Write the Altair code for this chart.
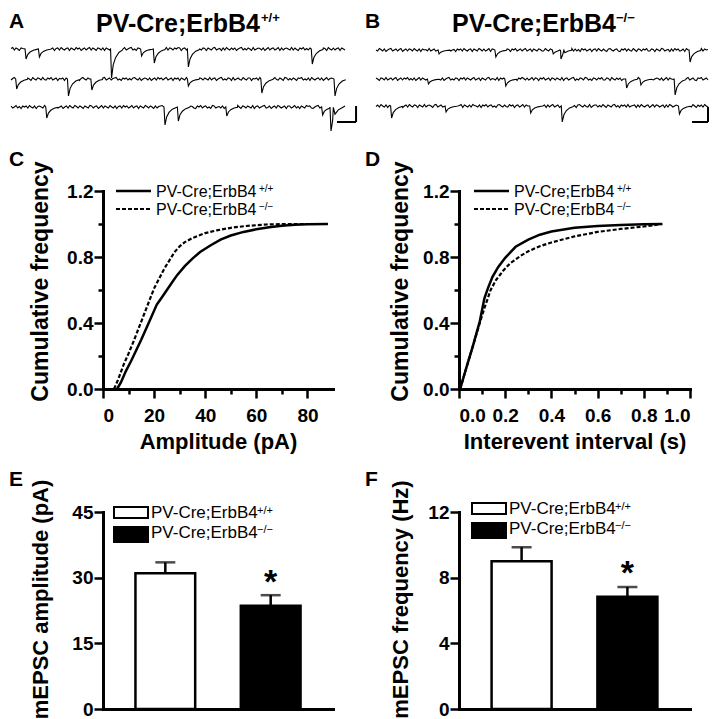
import altair as alt
import pandas as pd

FONT = "Liberation Sans"

# ---------------- data ----------------
genotypes = ["PV-Cre;ErbB4+/+", "PV-Cre;ErbB4-/-"]
sup_wt = "+/+"
sup_ko = "\u2212/\u2212"

# E / F bar data
amp_mean = [31.0, 23.6]
amp_sem = [2.5, 2.4]
freq_mean = [9.0, 6.83]
freq_sem = [0.85, 0.6]
amp_star = [28.7]
freq_star = [8.25]

# C: cumulative amplitude distributions
amp_wt_x = [5.5, 7, 9, 11, 13, 15, 17, 19, 21, 23, 25, 27, 29, 32, 35, 38, 42, 46, 50, 55, 60, 65, 70, 75, 80, 88]
amp_wt_y = [0, 0.04, 0.11, 0.17, 0.235, 0.30, 0.37, 0.44, 0.51, 0.555, 0.60, 0.645, 0.69, 0.745, 0.79, 0.83,
            0.87, 0.905, 0.93, 0.952, 0.968, 0.98, 0.99, 0.996, 0.999, 1.0]
amp_ko_x = [4.3, 6, 8, 10, 12, 14, 16, 18, 20, 22, 24, 26, 28, 30, 32, 35, 40, 45, 50, 56, 64, 72, 88]
amp_ko_y = [0, 0.06, 0.145, 0.215, 0.29, 0.37, 0.45, 0.53, 0.61, 0.67, 0.73, 0.78, 0.83, 0.865, 0.89, 0.915,
            0.945, 0.963, 0.977, 0.988, 0.997, 1.0, 1.0]

# D: cumulative inter-event interval distributions
iei_wt_x = [0.005, 0.03, 0.06, 0.09, 0.11, 0.125, 0.145, 0.17, 0.2, 0.245, 0.3, 0.35, 0.4, 0.5, 0.6, 0.7, 0.8, 0.88]
iei_wt_y = [0, 0.12, 0.26, 0.41, 0.55, 0.61, 0.68, 0.74, 0.795, 0.862, 0.905, 0.935, 0.955, 0.977, 0.988, 0.994,
            0.998, 1.0]
iei_ko_x = [0.005, 0.03, 0.06, 0.09, 0.11, 0.137, 0.16, 0.19, 0.22, 0.27, 0.3, 0.35, 0.4, 0.5, 0.6, 0.7, 0.8, 0.88]
iei_ko_y = [0, 0.12, 0.26, 0.40, 0.49, 0.60, 0.66, 0.715, 0.76, 0.81, 0.835, 0.865, 0.888, 0.925, 0.952, 0.97,
            0.985, 1.0]

# A / B: example traces (baseline noise samples, events as (time, depth))
noise_A = [
    "0.5 1.5 -1 1 0 -1.5 1 0.5 -1 1.5 -1 0 1 -1.5 0 1 0.5 -1 1.5 0 -1 1 1.5 -1 0 1 -1.5 0.5 1 -1 1.5 0 -1 0.5 1 -1.5 1 0 -1 1.5 0 1 -1.5 0 1 -1 0.5 1.5 -1 1 0 -1.5 1 0.5 -1 1 -1.5 1 0 -1 1.5 0 -1 1 0.5 -1.5 1 0 1.5 -1 0 1 1.5 -1 0 -1.5 1 0.5 -1 1 0 -1.5 1.5 0 1 -1 0.5 1 -1.5 0 1 -1 0 1.5 -1 1 0.5 -1 1 0 1.5 "
    "1 -1.5 0.5 1 -1 0 1.5 -1 1 -0.5 -1 1.5 0 -1 1 0.5 -1.5 1 0 -1 1 1.5 -1 0 0.5 -1.5 1 -1 1.5 0 -1 1 -0.5 1 -1.5 0 1 1.5 -1 0.5 -1 1 0 -1.5 1.5 -1 0 1 0.5 -1 1 -1.5 0 1.5 -1 0.5 1 -1 0 1.5 -1.5 1 -1 0.5 1 0 -1 1.5 -1 1 -0.5 -1.5 1 0 1.5 -1 0.5 -1 1 0 -1.5 1 1.5 -1 0 -1 1 0.5 -1.5 1.5 0 -1 1 -1 0.5 1 -1.5 1 0 -1",
    "-1 0.5 1.5 -1 0 1 -1.5 1 0.5 -1 1 0 -1.5 1.5 0 -1 1 0.5 -1 1.5 -0.5 -1 1 0 1.5 -1 0 1 -1.5 0.5 0 1 -1.5 1 0 -1 1.5 1 -1 0 1 -1.5 0.5 1.5 0 -1 1 0 -1.5 1 -1 0.5 1 0 -1.5 1 1.5 -1 0 1 -1 0.5 1 1.5 -1 0 -1.5 1 0 1 -1 0.5 -1 1 1.5 0 -1 1 -1.5 0 1 0.5 -1 1 -1.5 0 1 -1 1.5 0 1 -1 0.5 1.5 -1 0 1 -1.5 1 0 1 "
    "-1.5 1 0 -1 1.5 0.5 -1 1 -1 0 1.5 -1.5 1 0.5 -1 1 0 -1 1.5 -1 0.5 1 -1.5 0 1 1.5 -1 0 -1 1 0.5 -1.5 1.5 -1 0 1 -0.5 -1 1.5 0 -1 1 1 -1.5 0.5 0 1 -1 1.5 -1 0 0.5 1 -1.5 1 -1 0 1.5 -0.5 -1 1 0 -1.5 1.5 1 -1 0.5 -1 1 0 -1.5 1 0.5 1.5 -1 0 -1 1 -1.5 1.5 0 -1 0.5 1 -1 1 -1.5 0 1.5 -1 0.5 1 -1 0 1 -1.5 1.5 -0.5 -1 1",
    "1 -1 0 1.5 -1 0.5 -1.5 1 0 1 -1 1.5 0 -1 1 -1.5 0.5 1 0 -1 1.5 -1.5 1 0 -1 1 0.5 1.5 -1 0 1 -1.5 0 1 -1 1.5 0 -1 1.5 0.5 -1 1 0 -1.5 1 0 -1 1.5 1 -1 0.5 1 -1.5 0 1.5 -1 1 0 -1 1.5 0 -1 1 -1.5 0.5 1 -1 1.5 0 1 -1 0 1.5 -1 0.5 1 -1.5 1 0 -1 1.5 0.5 -1 1 0 -1.5 1 -1 0.5 1 1.5 -1 0 1 -1.5 0 1.5 -1 1 0 "
    "0.5 -1 1 -1.5 1.5 0 -1 1 0.5 -1 -1.5 1 0 1.5 -1 0.5 1 -1 0 -1.5 1.5 1 -1 0 0.5 -1 1 -1.5 1 0 1.5 -1 -0.5 1 -1 1.5 0 -1.5 1 0.5 -1 1 0 -1 1.5 -1.5 0.5 1 -1 0 1 1.5 -1 -0.5 1 -1.5 0 1 -1 1.5 0.5 -1 0 1 -1.5 1 1 -1 0 1.5 -1 0.5 -1.5 1 0 -1 1.5 0.5 1 -1 -1.5 0 1 1.5 -1 0 -1 1 0.5 -1.5 1.5 0 -1 1 -1 0.5 1.5 -1 0 1",
]
noise_B = [
    "0 -1 1.5 0.5 -1 1 -1.5 0 1 1.5 -1 0 1 -1 0.5 1.5 -1.5 0 1 -1 1 0.5 -1 1.5 0 -1 1 -1.5 1 0 0.5 -1 1.5 -1 0 1 -1 1.5 0.5 -1.5 1 0 -1 1 1.5 -1 0 0.5 -1.5 1 0 1 -1 1.5 0 -1 0.5 1 -1.5 1 0 -1 1.5 0.5 -1 1 -1 0 1.5 -1.5 1 0.5 -1 0 1 1.5 -1 0 -1 1 0.5 -1.5 1 0 1.5 -1 0 1 -1 0.5 1.5 -1 0 1 -1.5 1 0 -1 1 0.5 -1 "
    "-1 1.5 0 -1 1 -1.5 0.5 1 1.5 -1 0 -1 1 0.5 -1.5 1 0 1.5 -1 1 -1 0.5 -1.5 1.5 0 1 -1 0 1 -1.5 0.5 1 -1 1.5 0 -1 1 -0.5 -1.5 1 1.5 0 -1 0.5 1 -1 -1.5 1 0 1.5 -1 1 -0.5 -1 1.5 0 -1.5 1 0.5 -1 1 0 1.5 -1 -1 1 0.5 -1.5 1 0 -1 1.5 1 -1 0 0.5 -1.5 1 -1 1.5 0 1 -1 -0.5 1 -1.5 1.5 0 -1 1 0.5 -1 1 -1.5 0 1.5 -1 1 0 0.5",
    "1 0 -1.5 1 0.5 -1 1.5 -1 0 1 -1 0.5 1.5 -1.5 0 1 -1 1 0 1.5 -1 0.5 -1 1 -1.5 0 1.5 -1 1 0 -1 0.5 1 -1.5 1.5 0 -1 1 0.5 -1 1 -1.5 0 1 1.5 -1 0 -1 1 0.5 -1.5 1 0 1.5 -1 1 0 -1 0.5 1.5 -1 0 1 -1.5 1 0 -1 1 1.5 -1 0.5 0 -1 1.5 -1.5 1 0 1 -1 0.5 1.5 -1 0 1 -1 -1.5 1 0 1.5 0.5 -1 1 -1 0 1.5 -1 1 0.5 -1.5 1 0 "
    "1.5 -1 0 1 -1.5 1 0.5 -1 1 0 -1 1.5 -1.5 0.5 1 -1 0 1 1.5 -1.5 0 -1 1 0.5 -1 1.5 1 -1 0 -1.5 1 0.5 -1 1 0 1.5 -1 -1 1 0.5 -1.5 1.5 0 -1 1 -0.5 1 -1.5 0 1 1.5 -1 0.5 -1 1 -1.5 0 1.5 -1 1 0 -1 0.5 1 -1.5 1.5 -1 0 1 0.5 -1 1 -1.5 0 1.5 -1 1 0 -0.5 -1 1.5 1 -1.5 0 1 -1 0.5 1.5 -1 0 1 -1 -1.5 1 0.5 1.5 -1 0 1 -1",
    "-0.5 1 -1 1.5 0 -1 1 -1.5 0.5 1 0 -1 1.5 -1 1 0.5 -1.5 0 1 -1 1.5 0 -1 1 0.5 -1.5 1 0 -1 1.5 -1 0.5 1 0 -1.5 1 1.5 -1 0 1 -1 0.5 -1.5 1 0 1.5 -1 1 -1 0 0.5 1.5 -1.5 1 0 -1 1 -1 1.5 0.5 0 -1 1 -1.5 1 0 1.5 -1 0.5 1 -1 0 -1.5 1 1.5 0 -1 1 -0.5 -1 1.5 0 1 -1.5 0.5 1 -1 0 1.5 -1 1 0 -1 0.5 1.5 -1.5 1 0 1 -1 "
    "0 1 -1.5 1 -1 0.5 1.5 -1 0 1 -1.5 1 0.5 -1 1.5 0 -1 1 -1 0.5 -1.5 1 1.5 0 -1 1 -0.5 -1 1.5 -1.5 0 1 1 -1 0.5 -1 1.5 0 -1.5 1 0 -1 1 1.5 -1 0.5 -1.5 1 0 1 -1 1.5 -1 0 0.5 1 -1.5 1 -1 1.5 0 -1 0.5 1 -1.5 0 1.5 -1 1 0.5 -1 0 1 -1.5 1 -1 1.5 0.5 -1 0 1 -1 1.5 -1.5 0 1 0.5 -1 1 -1 1.5 0 -1.5 1 -0.5 1 -1 1.5 0 -1",
]
base_A = [13, 43, 71]
base_B = [14, 43, 70]
events_A = [
    [(4.2, 10), (8.2, 8), (29.8, 29), (38.8, 7), (42.6, 14), (52.8, 18), (89.9, 15)],
    [(1.4, 10), (16.9, 17), (23.9, 11), (52.8, 7), (74.8, 14), (96.7, 17)],
    [(10.4, 11), (45.8, 18), (49.8, 14), (64.3, 9), (93.0, 8), (95.5, 24)],
]
events_B = [
    [(18.7, 4), (35.8, 7), (53.1, 4), (55.4, 9), (94.3, 12)],
    [(15.5, 5), (38.8, 7), (75.2, 9), (79.5, 6), (89.8, 16)],
    [(4.4, 12), (20.8, 6), (46.3, 7), (55.8, 16), (91.1, 8)],
]
ev_dt = [0.0, 0.3, 0.8, 1.5, 2.5, 3.5]
ev_frac = [0.0, 1.0, 0.55, 0.3, 0.12, 0.04]
scalebar_A = {"t": [97.6], "t2": [103.3], "y": [-86], "y2": [-70]}
scalebar_B = {"t": [95.2], "t2": [100.0], "y": [-86], "y2": [-71]}

TRACE_H = 32  # plot box of the trace row; traces run below it unclipped


def trace_df(noises, bases, events, panel):
    recs = []
    for r, (ns, base, evs) in enumerate(zip(noises, bases, events)):
        vals = [float(v) for v in ns.split()]
        n = len(vals)
        pts = []
        for i, v in enumerate(vals):
            t = i * 100.0 / (n - 1)
            if any(te - 0.2 <= t <= te + ev_dt[-1] for te, _ in evs):
                continue
            pts.append((t, -base + v))
        for te, d in evs:
            for dt, f in zip(ev_dt, ev_frac):
                pts.append((te + dt, -base - d * f))
        pts.sort()
        for t, y in pts:
            recs.append({"t": t, "y": y, "row": f"{panel}{r}"})
    return pd.DataFrame(recs)


def txt(s, x, y, size, weight="bold", align="left", baseline="alphabetic"):
    return alt.Chart(pd.DataFrame({"s": [s]})).mark_text(
        font=FONT, fontSize=size, fontWeight=weight, align=align, baseline=baseline, color="black"
    ).encode(x=alt.value(x), y=alt.value(y), text="s:N")


def hline(x1, x2, y, dash=None, width=2.5):
    kw = {"strokeDash": dash} if dash else {}
    return alt.Chart(pd.DataFrame({"a": [0]})).mark_rule(color="black", strokeWidth=width, **kw).encode(
        x=alt.value(x1), x2=alt.value(x2), y=alt.value(y))


def box(x1, x2, y1, y2, fill):
    return alt.Chart(pd.DataFrame({"a": [0]})).mark_rect(fill=fill, stroke="black", strokeWidth=2).encode(
        x=alt.value(x1), x2=alt.value(x2), y=alt.value(y1), y2=alt.value(y2))


def trace_panel(df, dom, width, sb, letter, sup, sup_x):
    sx = alt.Scale(domain=dom, nice=False, zero=False)
    sy = alt.Scale(domain=[-TRACE_H, 0], nice=False, zero=False)
    line = alt.Chart(df).mark_line(color="black", strokeWidth=1.1, clip=False).encode(
        x=alt.X("t:Q", scale=sx, axis=None), y=alt.Y("y:Q", scale=sy, axis=None), detail="row:N")
    sbd = pd.DataFrame(sb)
    sb_h = alt.Chart(sbd).mark_rule(color="black", strokeWidth=2).encode(
        x=alt.X("t:Q", scale=sx, axis=None), x2="t2:Q", y=alt.Y("y:Q", scale=sy, axis=None))
    sb_v = alt.Chart(sbd).mark_rule(color="black", strokeWidth=2).encode(
        x=alt.X("t2:Q", scale=sx, axis=None), y=alt.Y("y:Q", scale=sy, axis=None), y2="y2:Q")
    return alt.layer(
        line, sb_h, sb_v,
        txt(letter, -94, -8, 21),
        txt("PV-Cre;ErbB4", -7, -4, 25),
        txt(sup, sup_x, -14, 13),
    ).properties(width=width, height=TRACE_H)


def cdf_panel(wt_x, wt_y, ko_x, ko_y, xdom, xvals, xtest, xfmt, xtitle, ytx, width, letter, lx):
    wt = pd.DataFrame({"x": wt_x, "y": wt_y})
    ko = pd.DataFrame({"x": ko_x, "y": ko_y})
    X = alt.X("x:Q", scale=alt.Scale(domain=xdom, nice=False, zero=False),
              axis=alt.Axis(values=xvals, format=xfmt, labelPadding=8,
                            labelExpr=f"{xtest} ? datum.label : ''",
                            tickSize={"condition": {"test": xtest, "value": 9}, "value": 5},
                            title=xtitle, titleX=width / 2, titleY=59, titleAlign="center",
                            titleBaseline="alphabetic"))
    ytest = "round(datum.value*10) % 4 == 0"
    Y = alt.Y("y:Q", scale=alt.Scale(domain=[0, 1.2], nice=False),
              axis=alt.Axis(values=[0, 0.2, 0.4, 0.6, 0.8, 1.0, 1.2], format=".1f",
                            labelExpr=f"{ytest} ? datum.label : ''",
                            tickSize={"condition": {"test": ytest, "value": 9}, "value": 5},
                            title="Cumulative frequency", titleX=ytx, titleY=90, titleAngle=270,
                            titleFontSize=23, titleAlign="center", titleBaseline="middle"))
    l_ko = alt.Chart(ko).mark_line(color="black", strokeWidth=2.2, strokeDash=[4, 2]).encode(x=X, y=Y)
    l_wt = alt.Chart(wt).mark_line(color="black", strokeWidth=2.5).encode(x=X, y=Y)
    return alt.layer(
        l_ko, l_wt,
        txt(letter, -94, -25, 21),
        hline(lx, lx + 35, 0),
        hline(lx, lx + 35, 18, dash=[4, 2], width=2),
        txt("PV-Cre;ErbB4", lx + 40, 6, 16, weight="normal"),
        txt(sup_wt, lx + 143, 1, 10, weight="normal"),
        txt("PV-Cre;ErbB4", lx + 40, 24, 16, weight="normal"),
        txt(sup_ko, lx + 143, 19, 10, weight="normal"),
    ).properties(width=width, height=198)


def bar_panel(means, sems, star, ymax, yvals, ytest, ytitle, ytx, yty, width, letter, lx, ly):
    df = pd.DataFrame({"g": genotypes, "mean": means,
                       "top": [m + s for m, s in zip(means, sems)], "fill": ["white", "black"]})
    sdf = pd.DataFrame({"g": [genotypes[1]], "star": star})
    X = alt.X("g:N", sort=genotypes, scale=alt.Scale(paddingInner=0.433, paddingOuter=0.308),
              axis=alt.Axis(labels=False, ticks=False, title=None))
    ys = alt.Scale(domain=[0, ymax], nice=False)
    Y = alt.Y("mean:Q", scale=ys,
              axis=alt.Axis(values=yvals, labelExpr=f"{ytest} ? format(datum.value, 'd') : ''",
                            tickSize={"condition": {"test": ytest, "value": 9}, "value": 5},
                            title=ytitle, titleX=ytx, titleY=yty, titleAngle=270,
                            titleAlign="center", titleBaseline="middle"))
    bars = alt.Chart(df).mark_bar(stroke="black", strokeWidth=2.5).encode(
        x=X, y=Y, fill=alt.Fill("fill:N", scale=None))
    err = alt.Chart(df).mark_rule(color="black", strokeWidth=2.5).encode(
        x=X, y=alt.Y("mean:Q", scale=ys), y2="top:Q")
    cap = alt.Chart(df).mark_tick(color="black", orient="horizontal", size=20, thickness=2.5).encode(
        x=X, y=alt.Y("top:Q", scale=ys))
    st = alt.Chart(sdf).mark_text(text="*", font=FONT, fontSize=34, fontWeight="bold", color="black",
                                  baseline="middle").encode(x=X, y=alt.Y("star:Q", scale=ys))
    return alt.layer(
        bars, err, cap, st,
        txt(letter, -94, -26, 21),
        box(lx, lx + 34, ly, ly + 11, "white"),
        box(lx, lx + 34, ly + 20, ly + 35, "black"),
        txt("PV-Cre;ErbB4", lx + 37, ly + 11, 17, weight="normal"),
        txt(sup_wt, lx + 143, ly + 7, 11, weight="normal"),
        txt("PV-Cre;ErbB4", lx + 37, ly + 31, 17, weight="normal"),
        txt(sup_ko, lx + 143, ly + 26, 11, weight="normal"),
    ).properties(width=width, height=197)


dfA = trace_df(noise_A, base_A, events_A, "A")
dfB = trace_df(noise_B, base_B, events_B, "B")

pA = trace_panel(dfA, [27.54, 96.4], 230, scalebar_A, "A", sup_wt, 158)
pB = trace_panel(dfB, [25.0, 94.58], 231, scalebar_B, "B", sup_ko, 157)

pC = cdf_panel(amp_wt_x, amp_wt_y, amp_ko_x, amp_ko_y, [0, 90], list(range(0, 90, 10)),
               "datum.value % 20 == 0", "d", "Amplitude (pA)", -63, 230, "C", 13)
pD = cdf_panel(iei_wt_x, iei_wt_y, iei_ko_x, iei_ko_y, [0, 1.0],
               [0, 0.1, 0.2, 0.3, 0.4, 0.5, 0.6, 0.7, 0.8, 0.9, 1.0],
               "round(datum.value*10) % 2 == 0", ".1f", "Interevent interval (s)", -59, 231, "D", 15)

pE = bar_panel(amp_mean, amp_sem, amp_star, 45, [0, 7.5, 15, 22.5, 30, 37.5, 45],
               "datum.value % 15 == 0", "mEPSC amplitude (pA)", -63, 87, 230, "E", 11, -5)
pF = bar_panel(freq_mean, freq_sem, freq_star, 12, [0, 2, 4, 6, 8, 10, 12],
               "datum.value % 4 == 0", "mEPSC frequency (Hz)", -59, 87, 231, "F", 13, -9)

chart = alt.concat(
    pA, pB, pC, pD, pE, pF, columns=2,
    spacing={"row": 123, "column": 126}, bounds="flush",
).properties(
    padding={"left": 0, "top": 3, "right": 0, "bottom": 0}
).configure_view(stroke=None).configure_axis(
    domainColor="black", domainWidth=3, domainCap="square", tickColor="black", tickWidth=2.5,
    labelColor="black", labelFont=FONT, labelFontSize=19, labelFontWeight="bold",
    titleFont=FONT, titleFontSize=22, titleFontWeight="bold", titleColor="black",
    grid=False, labelPadding=1,
)

chart.save("out.html", embed_options={"renderer": "svg", "actions": False})
